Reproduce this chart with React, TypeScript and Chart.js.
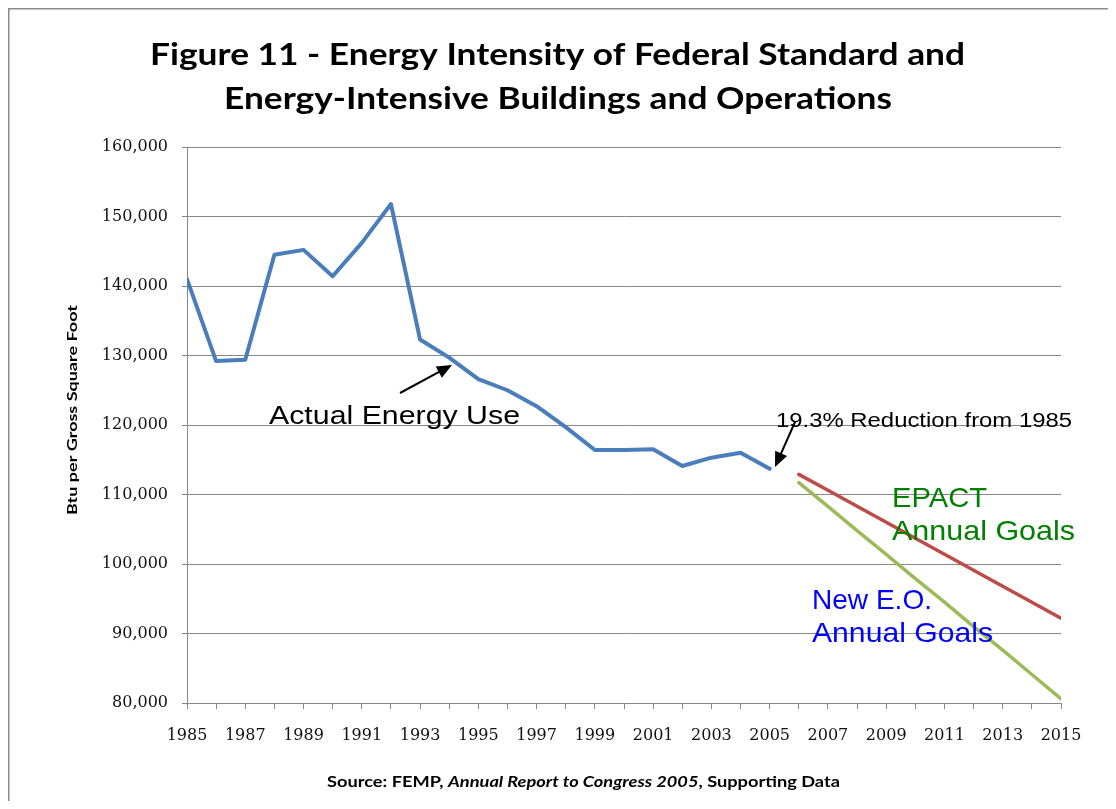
import React, { useEffect, useRef } from "react";
import { Chart, registerables } from "chart.js";

Chart.register(...registerables);

// ---------------- data ----------------
const actualYears = [1985, 1986, 1987, 1988, 1989, 1990, 1991, 1992, 1993, 1994, 1995, 1996, 1997, 1998, 1999, 2000, 2001, 2002, 2003, 2004, 2005];
const actualValues = [141000, 129200, 129400, 144500, 145200, 141400, 146200, 151800, 132300, 129700, 126600, 125000, 122700, 119700, 116400, 116400, 116500, 114100, 115300, 116000, 113700];
const goalYears = [2006, 2007, 2008, 2009, 2010, 2011, 2012, 2013, 2014, 2015];
const epactValues = [112900, 110600, 108300, 106000, 103700, 101400, 99100, 96800, 94500, 92200];
const eoValues = [111700, 108300, 104800, 101400, 97900, 94500, 91000, 87600, 84100, 80600];
const yMin = 80000;
const yMax = 160000;
const yStep = 10000;
const xMin = 1985;
const xMax = 2015;

const titleLines = ["Figure 11 - Energy Intensity of Federal Standard and", "Energy-Intensive Buildings and Operations"];
const yAxisTitle = "Btu per Gross Square Foot";
const sourceParts = [
  { text: "Source: FEMP, ", italic: false },
  { text: "Annual Report to Congress 2005", italic: true },
  { text: ", Supporting Data", italic: false },
];
const actualLabel = "Actual Energy Use";
const reductionLabel = "19.3% Reduction from 1985";
const epactLabel = ["EPACT", "Annual Goals"];
const eoLabel = ["New E.O.", "Annual Goals"];

// ---------------- styles ----------------
const GRID = "#878787";
const SANS = "'Liberation Sans', Arial, sans-serif";
const TITLE_FONT = "Lato, 'Open Sans', sans-serif";
const TICK_FONT = "'DejaVu Serif', serif";

function fitText(ctx: CanvasRenderingContext2D, text: string, x: number, y: number, font: string, color: string, width: number, align: "left" | "center" = "left") {
  ctx.save();
  ctx.font = font;
  ctx.fillStyle = color;
  ctx.textBaseline = "alphabetic";
  ctx.textAlign = "left";
  const w = ctx.measureText(text).width;
  const sx = width / w;
  const left = align === "center" ? x - width / 2 : x;
  ctx.translate(left, y);
  ctx.scale(sx, 1);
  ctx.fillText(text, 0, 0);
  ctx.restore();
}

function arrow(ctx: CanvasRenderingContext2D, x1: number, y1: number, x2: number, y2: number) {
  const ang = Math.atan2(y2 - y1, x2 - x1);
  const head = 15;
  const half = 6.5;
  ctx.save();
  ctx.strokeStyle = "#000";
  ctx.fillStyle = "#000";
  ctx.lineWidth = 2;
  ctx.beginPath();
  ctx.moveTo(x1, y1);
  ctx.lineTo(x2 - Math.cos(ang) * head * 0.8, y2 - Math.sin(ang) * head * 0.8);
  ctx.stroke();
  ctx.beginPath();
  ctx.moveTo(x2, y2);
  ctx.lineTo(x2 - Math.cos(ang) * head + Math.sin(ang) * half, y2 - Math.sin(ang) * head - Math.cos(ang) * half);
  ctx.lineTo(x2 - Math.cos(ang) * head - Math.sin(ang) * half, y2 - Math.sin(ang) * head + Math.cos(ang) * half);
  ctx.closePath();
  ctx.fill();
  ctx.restore();
}

const decorPlugin = {
  id: "decor",
  afterDraw(chart: any) {
    const ctx: CanvasRenderingContext2D = chart.ctx;
    const W = chart.width;
    const H = chart.height;
    // frame
    ctx.save();
    ctx.strokeStyle = "#8a8a8a";
    ctx.lineWidth = 1.5;
    ctx.beginPath();
    ctx.moveTo(0.75, H);
    ctx.lineTo(0.75, 0.75);
    ctx.lineTo(W, 0.75);
    ctx.stroke();
    ctx.restore();

    // title
    fitText(ctx, titleLines[0], 549.5, 57, `bold 30px ${TITLE_FONT}`, "#000", 815, "center");
    fitText(ctx, titleLines[1], 550, 101, `bold 30px ${TITLE_FONT}`, "#000", 668, "center");

    // y axis title
    ctx.save();
    ctx.translate(69, 402);
    ctx.rotate(-Math.PI / 2);
    fitText(ctx, yAxisTitle, 0, 0, `bold 14px ${TITLE_FONT}`, "#000", 210, "center");
    ctx.restore();

    // source
    ctx.save();
    const fonts = sourceParts.map((p) => `${p.italic ? "italic " : ""}bold 15px ${TITLE_FONT}`);
    let total = 0;
    const widths = sourceParts.map((p, i) => {
      ctx.font = fonts[i];
      const w = ctx.measureText(p.text).width;
      total += w;
      return w;
    });
    const sx = 513 / total;
    ctx.translate(319, 779);
    ctx.scale(sx, 1);
    ctx.fillStyle = "#000";
    ctx.textBaseline = "alphabetic";
    let cx = 0;
    sourceParts.forEach((p, i) => {
      ctx.font = fonts[i];
      ctx.fillText(p.text, cx, 0);
      cx += widths[i];
    });
    ctx.restore();

    // annotations
    fitText(ctx, actualLabel, 261, 416, `26px ${SANS}`, "#000", 251);
    arrow(ctx, 392, 385, 444, 357);
    fitText(ctx, reductionLabel, 768, 419, `20px ${SANS}`, "#000", 296);
    arrow(ctx, 787, 414, 767, 459);
    fitText(ctx, epactLabel[0], 884, 499, `28px ${SANS}`, "#008000", 95);
    fitText(ctx, epactLabel[1], 884, 532, `28px ${SANS}`, "#008000", 183);
    fitText(ctx, eoLabel[0], 804, 601, `28px ${SANS}`, "#0000ff", 120);
    fitText(ctx, eoLabel[1], 804, 634, `28px ${SANS}`, "#0000ff", 181);
  },
};

export default function App() {
  const ref = useRef<HTMLCanvasElement | null>(null);
  useEffect(() => {
    if (!ref.current) return;
    const toPts = (xs: number[], ys: number[]) => xs.map((x, i) => ({ x, y: ys[i] }));
    const chart = new Chart(ref.current, {
      type: "line",
      data: {
        datasets: [
          {
            label: "Actual Energy Use",
            data: toPts(actualYears, actualValues),
            borderColor: "#4a7ebb",
            borderWidth: 4,
            pointRadius: 0,
            borderCapStyle: "round",
            borderJoinStyle: "round",
            tension: 0,
          },
          {
            label: "EPACT Annual Goals",
            data: toPts(goalYears, epactValues),
            borderColor: "#be4b48",
            borderWidth: 3.5,
            pointRadius: 0,
            borderCapStyle: "round",
            borderJoinStyle: "round",
            tension: 0,
          },
          {
            label: "New E.O. Annual Goals",
            data: toPts(goalYears, eoValues),
            borderColor: "#9bbb59",
            borderWidth: 3.5,
            pointRadius: 0,
            borderCapStyle: "round",
            borderJoinStyle: "round",
            tension: 0,
          },
        ],
      },
      options: {
        animation: false,
        responsive: true,
        maintainAspectRatio: false,
        layout: { padding: { left: 0, top: 139, right: 55, bottom: 0 } },
        plugins: { legend: { display: false }, tooltip: { enabled: false }, title: { display: false } },
        scales: {
          x: {
            type: "linear",
            min: xMin,
            max: xMax,
            afterFit: (s: any) => {
              s.height = 98;
            },
            ticks: {
              stepSize: 1,
              autoSkip: false,
              maxRotation: 0,
              minRotation: 0,
              padding: 17,
              color: "#111",
              font: { family: TICK_FONT, size: 16 },
              callback: (v: any) => ((Number(v) - xMin) % 2 === 0 ? String(v) : ""),
            },
            grid: { drawOnChartArea: false, drawTicks: true, tickLength: 6, color: GRID, lineWidth: 1 },
            border: { color: GRID, width: 1 },
          },
          y: {
            type: "linear",
            min: yMin,
            max: yMax,
            afterFit: (s: any) => {
              s.width = 179;
            },
            ticks: {
              stepSize: yStep,
              padding: 14,
              color: "#111",
              font: { family: TICK_FONT, size: 16 },
              callback: (v: any) => Number(v).toLocaleString("en-US"),
            },
            grid: { color: GRID, lineWidth: 1, drawTicks: true, tickLength: 5 },
            border: { color: GRID, width: 1 },
          },
        },
      },
      plugins: [decorPlugin],
    });
    return () => chart.destroy();
  }, []);
  return (
    <div style={{ position: "relative", width: 1108, height: 793, background: "#fff" }}>
      <canvas ref={ref} />
    </div>
  );
}
